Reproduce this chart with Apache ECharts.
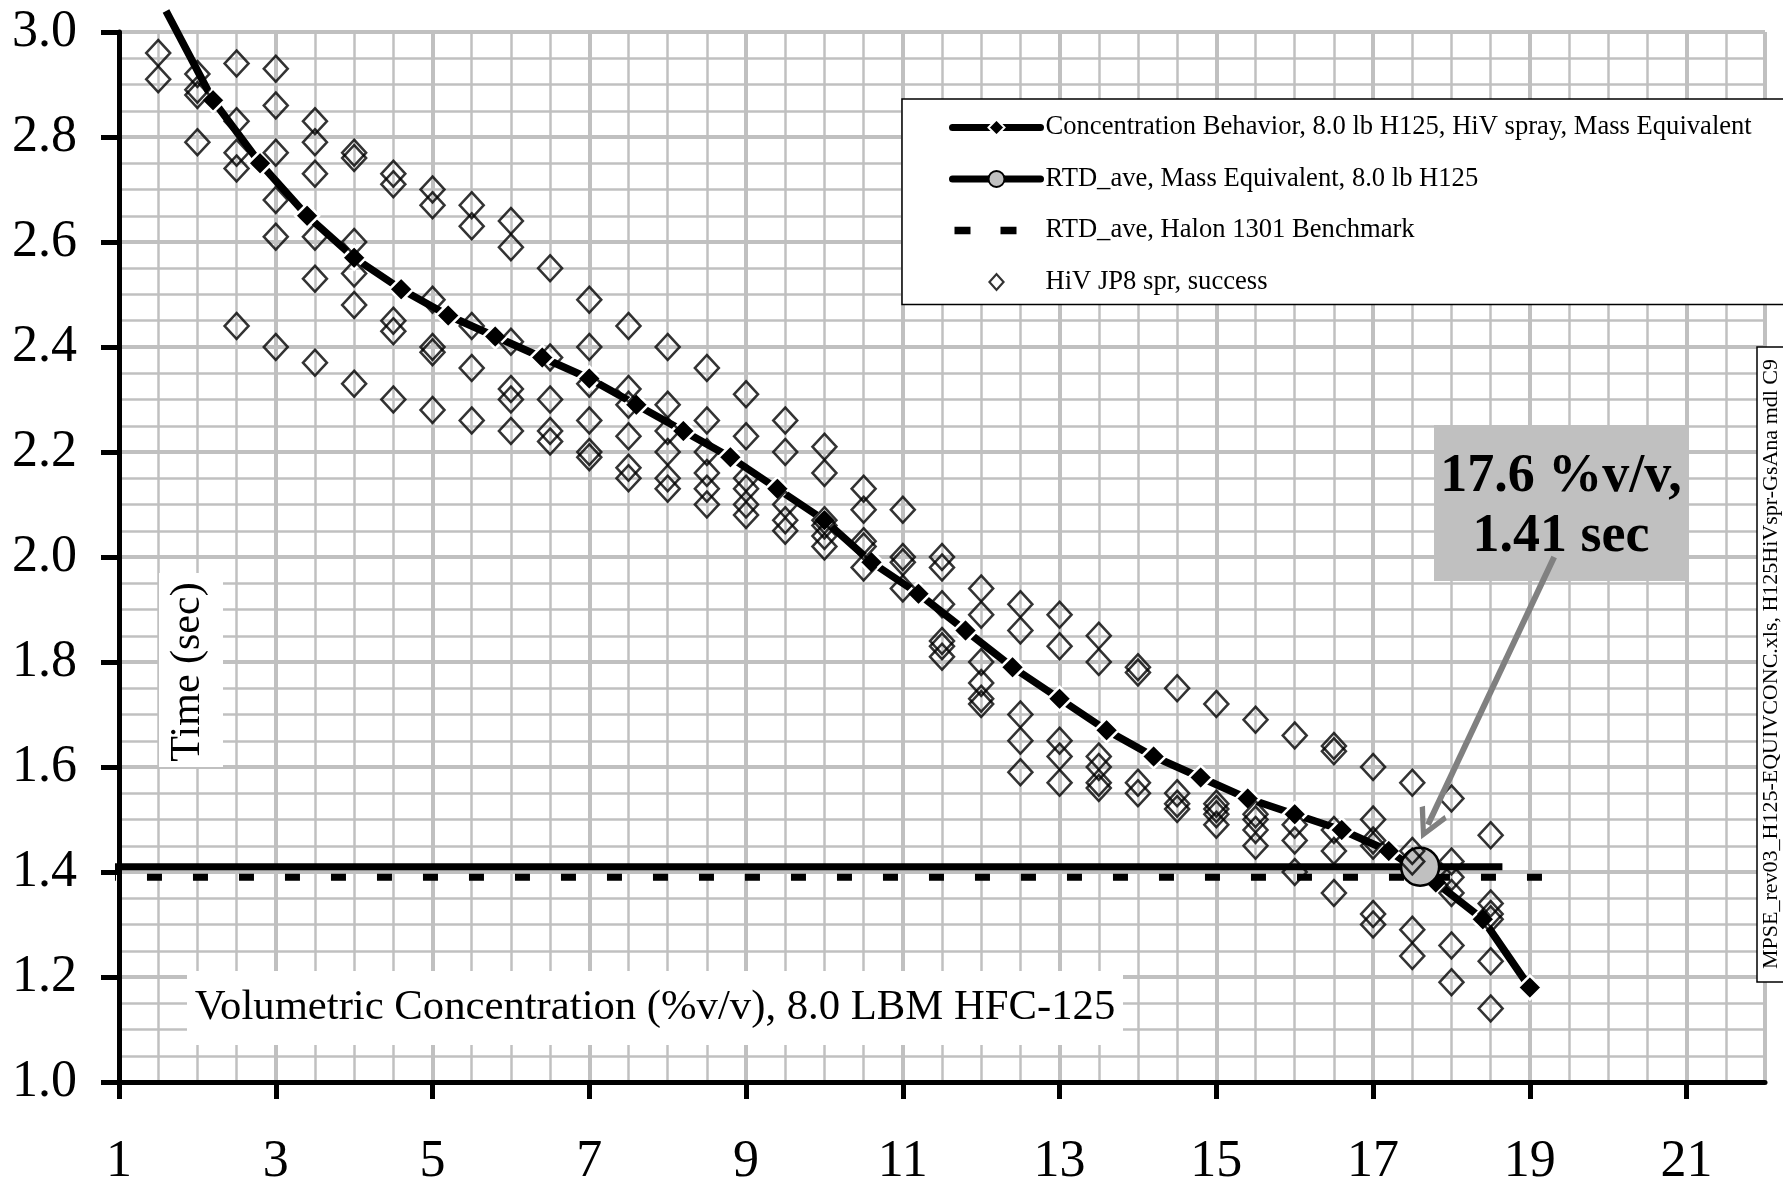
<!DOCTYPE html>
<html><head><meta charset="utf-8">
<script src="https://cdn.jsdelivr.net/npm/echarts@6/dist/echarts.min.js"></script>
<style>html,body{margin:0;padding:0;background:#fff}#c{width:1783px;height:1188px}</style>
</head><body><div id="c"></div>
<script>
// ---------- data ----------
const xTicks = [1, 3, 5, 7, 9, 11, 13, 15, 17, 19, 21];

const concName = 'Concentration Behavior, 8.0 lb H125, HiV spray, Mass Equivalent';
const concX = [1.6, 2.2, 2.8, 3.4, 4.0, 4.6, 5.2, 5.8, 6.4, 7.0, 7.6, 8.2, 8.8, 9.4, 10.0,
               10.6, 11.2, 11.8, 12.4, 13.0, 13.6, 14.2, 14.8, 15.4, 16.0, 16.6, 17.2, 17.8, 18.4, 19.0];
const concY = [3.04, 2.87, 2.75, 2.65, 2.57, 2.51, 2.46, 2.42, 2.38, 2.34, 2.29, 2.24, 2.19, 2.13, 2.07,
               1.99, 1.93, 1.86, 1.79, 1.73, 1.67, 1.62, 1.58, 1.54, 1.51, 1.48, 1.44, 1.38, 1.31, 1.18];

const rtdName = 'RTD_ave, Mass Equivalent, 8.0 lb H125';
const rtdLineX = [0.77, 18.65];
const rtdPoint = [17.6, 1.41];

const halonName = 'RTD_ave, Halon 1301 Benchmark';
const halonX = [0.77, 19.2];
const halonY = 1.39;

const jp8Name = 'HiV JP8 spr, success';
const jp8X = [1.5, 2.0, 2.5, 3.0, 3.5, 4.0, 4.5, 5.0, 5.5, 6.0, 6.5, 7.0, 7.5, 8.0, 8.5, 9.0, 9.5, 10.0,
              10.5, 11.0, 11.5, 12.0, 12.5, 13.0, 13.5, 14.0, 14.5, 15.0, 15.5, 16.0, 16.5, 17.0, 17.5, 18.0, 18.5];
const jp8Y = [
  [2.96, 2.91],
  [2.92, 2.89, 2.88, 2.79],
  [2.94, 2.83, 2.77, 2.74, 2.44],
  [2.93, 2.86, 2.77, 2.68, 2.61, 2.40],
  [2.83, 2.79, 2.73, 2.61, 2.53, 2.37],
  [2.77, 2.76, 2.60, 2.54, 2.48, 2.33],
  [2.73, 2.71, 2.45, 2.43, 2.30],
  [2.70, 2.67, 2.49, 2.40, 2.39, 2.28],
  [2.67, 2.63, 2.44, 2.36, 2.26],
  [2.64, 2.59, 2.41, 2.32, 2.30, 2.24],
  [2.55, 2.38, 2.30, 2.24, 2.22],
  [2.49, 2.40, 2.33, 2.26, 2.20, 2.19],
  [2.44, 2.32, 2.29, 2.23, 2.17, 2.15],
  [2.40, 2.29, 2.24, 2.20, 2.15, 2.13],
  [2.36, 2.26, 2.20, 2.16, 2.13, 2.10],
  [2.31, 2.23, 2.15, 2.13, 2.10, 2.08],
  [2.26, 2.20, 2.10, 2.07, 2.05],
  [2.21, 2.16, 2.07, 2.06, 2.04, 2.02],
  [2.13, 2.09, 2.03, 2.02, 1.98],
  [2.09, 2.00, 1.99, 1.94],
  [2.00, 1.98, 1.91, 1.84, 1.83, 1.81],
  [1.94, 1.89, 1.80, 1.76, 1.73, 1.72],
  [1.91, 1.86, 1.70, 1.65, 1.59],
  [1.89, 1.83, 1.65, 1.62, 1.57],
  [1.85, 1.80, 1.62, 1.60, 1.57, 1.56],
  [1.79, 1.78, 1.57, 1.55],
  [1.75, 1.55, 1.53, 1.52],
  [1.72, 1.53, 1.52, 1.51, 1.49],
  [1.69, 1.51, 1.50, 1.48, 1.45],
  [1.66, 1.49, 1.46, 1.40],
  [1.64, 1.63, 1.48, 1.44, 1.36],
  [1.60, 1.50, 1.46, 1.45, 1.32, 1.30],
  [1.57, 1.44, 1.42, 1.29, 1.24],
  [1.54, 1.42, 1.39, 1.36, 1.26, 1.19],
  [1.47, 1.34, 1.32, 1.31, 1.23, 1.14]
];

const calloutText = ['17.6 %v/v,', '1.41 sec'];
const arrowFrom = [19.31, 2.0];
const arrowTo = [17.70, 1.49];

const xTitle = 'Volumetric Concentration (%v/v), 8.0 LBM HFC-125';
const yTitle = 'Time (sec)';
const fileTag = 'MPSE_rev03_H125-EQUIVCONC.xls, H125HiVspr-GsAna mdl C9';

// ---------- chart ----------
const FONT = '"Liberation Serif", "Times New Roman", serif';
const GRAY = '#c0c0c0';
const chart = echarts.init(document.getElementById('c'), null, {renderer: 'canvas', width: 1783, height: 1188});

function valAxis(min, max, extra) {
  return Object.assign({
    type: 'value', min: min, max: max,
    axisLine: {show: false}, axisTick: {show: false}, axisLabel: {show: false}, splitLine: {show: false}
  }, extra);
}

const concData = concX.map((x, i) => i === 0 ? {value: [x, concY[i]], symbol: 'none'} : [x, concY[i]]);
const rtdData = [
  {value: [rtdLineX[0], rtdPoint[1]], symbol: 'none'},
  [rtdPoint[0], rtdPoint[1]],
  {value: [rtdLineX[1], rtdPoint[1]], symbol: 'none'}
];
const halonData = halonX.map(x => [x, halonY]);
const jp8Data = [];
jp8X.forEach((x, i) => jp8Y[i].forEach(y => jp8Data.push([x, y])));

const chevron = 'path://M50,0 L100,78 L86,88 L50,30 L14,88 L0,78 Z';
// legend icons drawn in an 88x20 box (corner slivers fix the box)
const BOX = 'M0,0h0.01v0.01h-0.01Z M88,20h-0.01v-0.01h0.01Z ';
const halonIcon = 'path://' + BOX + 'M2,6.3h16v7.4h-16Z M48,6.3h16v7.4h-16Z';
const jp8Icon = 'path://' + BOX + 'M44,0.5L52.5,10L44,19.5L35.5,10Z M44,3.7L38.4,10L44,16.3L49.6,10Z';

const option = {
  animation: false,
  backgroundColor: '#fff',
  grid: {left: 119, right: 18, top: 32, bottom: 100, containLabel: false},
  xAxis: [
    valAxis(1, 22, {interval: 0.5, position: 'bottom', splitLine: {show: true, lineStyle: {color: GRAY, width: 2.5}}}),
    valAxis(1, 22, {interval: 2, position: 'bottom', splitLine: {show: true, lineStyle: {color: GRAY, width: 4}}}),
    valAxis(1, 22, {interval: 2, position: 'bottom', z: 1,
      axisLine: {show: true, onZero: false, lineStyle: {color: '#000', width: 5}},
      axisTick: {show: true, customValues: xTicks, length: 17, lineStyle: {color: '#000', width: 5}},
      axisLabel: {show: true, customValues: xTicks, margin: 54, fontSize: 52, fontFamily: FONT, color: '#000'}})
  ],
  yAxis: [
    valAxis(1, 3, {interval: 0.05, position: 'left', splitLine: {show: true, lineStyle: {color: GRAY, width: 2.5}}}),
    valAxis(1, 3, {interval: 0.2, position: 'left', splitLine: {show: true, lineStyle: {color: GRAY, width: 4}}}),
    valAxis(1, 3, {interval: 0.2, position: 'left', z: 1,
      axisLine: {show: true, onZero: false, lineStyle: {color: '#000', width: 5}},
      axisTick: {show: true, length: 18, lineStyle: {color: '#000', width: 5}},
      axisLabel: {show: true, margin: 42, fontSize: 52, fontFamily: FONT, color: '#000',
        formatter: v => v.toFixed(1)}})
  ],
  legend: {
    orient: 'vertical', left: 902, top: 99,
    padding: [15, 200, 9, 47],
    itemGap: 24.5, itemWidth: 88, itemHeight: 20,
    backgroundColor: '#fff', borderColor: '#000', borderWidth: 1.5,
    selectedMode: false,
    lineStyle: {width: 7, cap: 'round'},
    textStyle: {fontFamily: FONT, fontSize: 26.6, color: '#000'},
    data: [
      {name: concName},
      {name: rtdName},
      {name: halonName, icon: halonIcon, itemStyle: {color: '#000', borderWidth: 0}},
      {name: jp8Name, icon: jp8Icon, itemStyle: {color: '#000', borderWidth: 0}}
    ]
  },
  graphic: [
    {type: 'rect', z: 1, shape: {x: 1434, y: 425, width: 255, height: 156}, style: {fill: GRAY}},
    {type: 'text', z: 1, x: 1561, y: 507, style: {text: calloutText.join('\n'), fill: '#000',
      fontFamily: FONT, fontSize: 54, fontWeight: 'bold', align: 'center', verticalAlign: 'middle', lineHeight: 60}},
    {type: 'rect', z: 1, shape: {x: 159, y: 573, width: 64, height: 194}, style: {fill: '#fff'}},
    {type: 'text', z: 1, x: 188, y: 672, rotation: Math.PI / 2, style: {text: yTitle, fill: '#000',
      fontFamily: FONT, fontSize: 42, align: 'center', verticalAlign: 'middle'}},
    {type: 'rect', z: 1, shape: {x: 187, y: 971, width: 936, height: 74}, style: {fill: '#fff'}},
    {type: 'text', z: 1, x: 655, y: 1008, style: {text: xTitle, fill: '#000',
      fontFamily: FONT, fontSize: 42.7, align: 'center', verticalAlign: 'middle'}},
    {type: 'rect', z: 1, shape: {x: 1757, y: 347, width: 60, height: 635}, style: {fill: '#fff', stroke: '#000', lineWidth: 1.5}},
    {type: 'text', z: 1, x: 1771, y: 664, rotation: Math.PI / 2, style: {text: fileTag, fill: '#000',
      fontFamily: FONT, fontSize: 22, align: 'center', verticalAlign: 'middle'}}
  ],
  series: [
    {
      name: concName, type: 'line', data: concData, clip: false, z: 3,
      symbol: 'diamond', symbolSize: 24, showAllSymbol: true,
      itemStyle: {color: '#000', borderColor: '#fff', borderWidth: 2.5},
      lineStyle: {color: '#000', width: 7.5}
    },
    {
      name: rtdName, type: 'line', data: rtdData, clip: false, z: 4,
      symbol: 'circle', symbolSize: 38, showAllSymbol: true,
      itemStyle: {color: GRAY, borderColor: '#000', borderWidth: 2.5},
      lineStyle: {color: '#000', width: 7},
      markLine: {
        silent: true, animation: false, z: 6,
        symbol: ['none', chevron], symbolSize: [30, 32],
        lineStyle: {color: '#808080', width: 6, type: 'solid'},
        label: {show: false},
        data: [[{coord: arrowFrom}, {coord: arrowTo}]]
      }
    },
    {
      name: halonName, type: 'line', data: halonData, clip: false, z: 4,
      symbol: 'none',
      itemStyle: {color: '#000'},
      lineStyle: {color: '#000', width: 7, type: [15, 31]}
    },
    {
      name: jp8Name, type: 'scatter', data: jp8Data, z: 5,
      symbol: 'diamond', symbolSize: [24, 26],
      itemStyle: {color: 'rgba(255,255,255,0)', borderColor: '#000', borderWidth: 2.5}
    }
  ]
};
chart.setOption(option);
</script>
</body></html>
